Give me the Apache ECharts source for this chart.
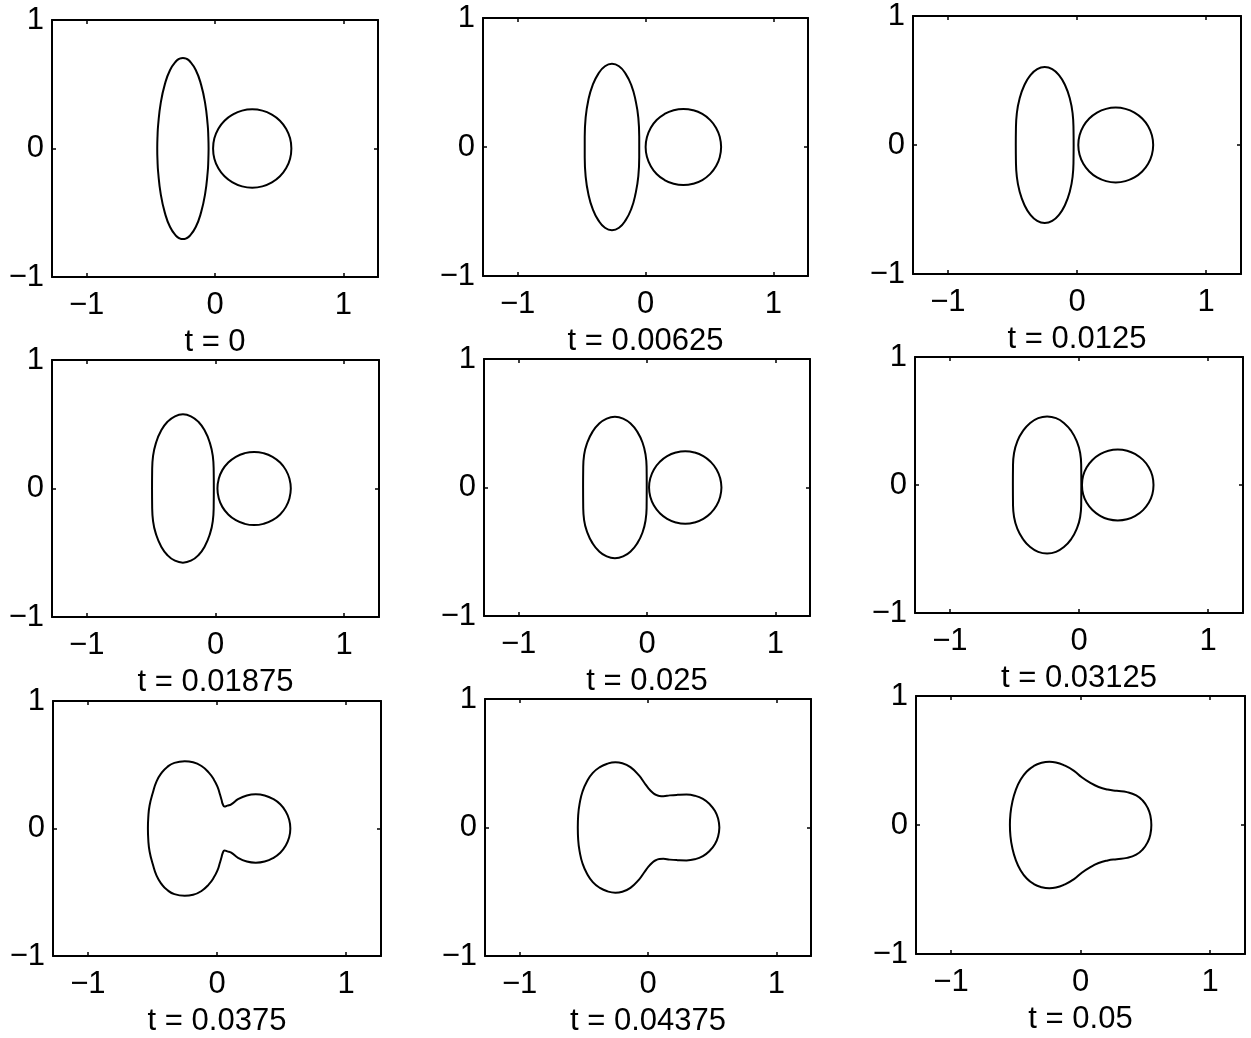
<!DOCTYPE html>
<html>
<head>
<meta charset="utf-8">
<title>Merging of two drops</title>
<script src="https://cdn.jsdelivr.net/npm/echarts@6/dist/echarts.min.js"></script>
<style>
  html, body { margin: 0; padding: 0; background: #fff; }
  #chart { width: 1251px; height: 1038px; }
</style>
</head>
<body>
<div id="chart"></div>
<script>
// Snapshot times, one per panel
const timeLabels = ['t = 0', 't = 0.00625', 't = 0.0125', 't = 0.01875', 't = 0.025',
                    't = 0.03125', 't = 0.0375', 't = 0.04375', 't = 0.05'];
const xTicks = [-1, 0, 1];
const yTicks = [-1, 0, 1];

// Interface contours: upper halves [x, y], from the right end (y = 0) over the top to the left end.
// The shapes are symmetric about y = 0; the lower half is the mirror image.
const dropA_t0 = [[-0.05,0],[-0.052,0.092],[-0.057,0.183],[-0.077,0.353],[-0.109,0.499],[-0.15,0.611],[-0.198,0.681],[-0.224,0.699],[-0.25,0.705],[-0.276,0.699],[-0.302,0.681],[-0.35,0.611],[-0.391,0.499],[-0.423,0.353],[-0.443,0.183],[-0.448,0.092],[-0.45,0]];
const dropB_t0 = [[0.595,0],[0.585,0.079],[0.554,0.153],[0.506,0.216],[0.443,0.264],[0.369,0.295],[0.29,0.305],[0.211,0.295],[0.138,0.264],[0.074,0.216],[0.026,0.153],[-0.005,0.079],[-0.015,0]];

const dropA_t1 = [[-0.049,0],[-0.049,0.08],[-0.056,0.226],[-0.078,0.363],[-0.111,0.48],[-0.156,0.569],[-0.207,0.626],[-0.262,0.645],[-0.317,0.626],[-0.368,0.569],[-0.413,0.48],[-0.447,0.363],[-0.468,0.226],[-0.475,0.08],[-0.475,0]];
const dropB_t1 = [[0.591,0],[0.581,0.076],[0.552,0.148],[0.505,0.209],[0.444,0.256],[0.372,0.285],[0.296,0.295],[0.22,0.285],[0.149,0.256],[0.087,0.209],[0.041,0.148],[0.011,0.076],[0.001,0]];

const dropA_t2 = [[-0.026,0],[-0.027,0.12],[-0.034,0.246],[-0.056,0.363],[-0.092,0.463],[-0.138,0.54],[-0.192,0.589],[-0.25,0.605],[-0.308,0.589],[-0.362,0.54],[-0.408,0.463],[-0.444,0.363],[-0.466,0.246],[-0.473,0.12],[-0.474,0]];
const dropB_t2 = [[0.59,0],[0.58,0.075],[0.551,0.145],[0.505,0.205],[0.445,0.251],[0.375,0.28],[0.3,0.29],[0.225,0.28],[0.155,0.251],[0.095,0.205],[0.049,0.145],[0.02,0.075],[0.01,0]];

const dropA_t3 = [[-0.013,0],[-0.014,0.14],[-0.021,0.253],[-0.045,0.359],[-0.083,0.449],[-0.133,0.519],[-0.191,0.562],[-0.253,0.577],[-0.315,0.562],[-0.373,0.519],[-0.423,0.449],[-0.461,0.359],[-0.485,0.253],[-0.492,0.14],[-0.493,0]];
const dropB_t3 = [[0.585,0],[0.575,0.074],[0.547,0.143],[0.502,0.202],[0.443,0.247],[0.374,0.275],[0.3,0.285],[0.226,0.275],[0.158,0.247],[0.099,0.202],[0.053,0.143],[0.025,0.074],[0.015,0]];

const dropA_t4 = [[-0.002,0],[-0.003,0.15],[-0.011,0.254],[-0.035,0.35],[-0.075,0.433],[-0.126,0.496],[-0.186,0.536],[-0.25,0.55],[-0.314,0.536],[-0.374,0.496],[-0.425,0.433],[-0.465,0.35],[-0.49,0.254],[-0.497,0.15],[-0.498,0]];
const dropB_t4 = [[0.58,0],[0.57,0.073],[0.542,0.141],[0.497,0.199],[0.439,0.244],[0.371,0.272],[0.298,0.282],[0.225,0.272],[0.157,0.244],[0.099,0.199],[0.054,0.141],[0.026,0.073],[0.016,0]];

const dropA_t5 = [[0.018,0],[0.017,0.15],[0.009,0.25],[-0.018,0.343],[-0.06,0.422],[-0.115,0.483],[-0.178,0.522],[-0.247,0.535],[-0.316,0.522],[-0.38,0.483],[-0.434,0.422],[-0.477,0.343],[-0.503,0.25],[-0.511,0.15],[-0.512,0]];
const dropB_t5 = [[0.577,0],[0.568,0.072],[0.54,0.139],[0.496,0.196],[0.439,0.24],[0.372,0.268],[0.3,0.277],[0.228,0.268],[0.162,0.24],[0.104,0.196],[0.06,0.139],[0.032,0.072],[0.023,0]];

const merged_t6 = [[0.568,0],[0.559,0.069],[0.532,0.134],[0.49,0.19],[0.434,0.232],[0.369,0.259],[0.3,0.268],[0.231,0.259],[0.166,0.232],[0.11,0.19],[0.08,0.179],[0.058,0.172],[0.045,0.19],[0.035,0.225],[0.022,0.27],[0.005,0.325],[-0.025,0.385],[-0.065,0.44],[-0.12,0.49],[-0.185,0.52],[-0.25,0.528],[-0.33,0.515],[-0.385,0.483],[-0.43,0.435],[-0.468,0.37],[-0.497,0.28],[-0.522,0.18],[-0.532,0.09],[-0.535,0]];
const merged_t7 = [[0.556,0],[0.547,0.066],[0.522,0.128],[0.481,0.181],[0.428,0.222],[0.366,0.247],[0.3,0.256],[0.23,0.254],[0.17,0.25],[0.12,0.244],[0.088,0.246],[0.06,0.255],[0.035,0.272],[0.005,0.303],[-0.03,0.35],[-0.07,0.405],[-0.137,0.47],[-0.2,0.5],[-0.254,0.507],[-0.315,0.497],[-0.375,0.47],[-0.43,0.425],[-0.475,0.36],[-0.51,0.28],[-0.532,0.19],[-0.544,0.095],[-0.547,0]];
const merged_t8 = [[0.547,0],[0.54,0.07],[0.52,0.13],[0.48,0.19],[0.43,0.23],[0.36,0.255],[0.28,0.265],[0.21,0.275],[0.14,0.295],[0.07,0.33],[0.01,0.37],[-0.05,0.42],[-0.12,0.46],[-0.19,0.485],[-0.24,0.49],[-0.3,0.482],[-0.36,0.458],[-0.415,0.415],[-0.463,0.35],[-0.5,0.27],[-0.527,0.175],[-0.541,0.085],[-0.545,0]];

const panelCurves = [
  [dropA_t0, dropB_t0], [dropA_t1, dropB_t1], [dropA_t2, dropB_t2],
  [dropA_t3, dropB_t3], [dropA_t4, dropB_t4], [dropA_t5, dropB_t5],
  [merged_t6], [merged_t7], [merged_t8]
];

// Plot boxes in pixels: [left, top, width, height]
const boxes = [
  [52, 20, 326, 257], [483, 18, 325, 258], [913, 16, 328, 258],
  [52, 360, 327, 257], [484, 359, 326, 257], [915, 357, 328, 256],
  [53, 701, 328, 256], [485, 699, 326, 257], [916, 696, 329, 258]
];

const FONT = 'Liberation Sans, Arial, Helvetica, sans-serif';
const fmt = v => String(v).replace('-', '\u2212');

// Close a contour by appending the mirrored lower half
function closeContour(upper) {
  const lower = upper.slice(0, -1).reverse().map(p => [p[0], -p[1]]);
  return upper.concat(lower);
}

const grid = [], xAxis = [], yAxis = [], series = [];
const lineBox = { color: '#000', width: 2 };
const tickStyle = { color: '#000', width: 1.5 };
const textStyle = { color: '#000', fontSize: 31, fontFamily: FONT };

boxes.forEach((b, i) => {
  grid.push({ left: b[0], top: b[1], width: b[2], height: b[3] });
  xAxis.push({
    gridIndex: i, type: 'value', position: 'bottom', min: -1.27, max: 1.27,
    axisLine: { onZero: false, lineStyle: lineBox },
    axisTick: { inside: true, length: 4, customValues: xTicks, lineStyle: tickStyle },
    axisLabel: Object.assign({ customValues: xTicks, formatter: fmt, margin: 13 }, textStyle),
    splitLine: { show: false },
    name: timeLabels[i], nameLocation: 'middle', nameGap: 50,
    nameTextStyle: textStyle
  });
  xAxis.push({
    gridIndex: i, type: 'value', position: 'top', min: -1.27, max: 1.27,
    axisLine: { onZero: false, lineStyle: lineBox },
    axisTick: { inside: true, length: 4, customValues: xTicks, lineStyle: tickStyle },
    axisLabel: { show: false }, splitLine: { show: false }
  });
  yAxis.push({
    gridIndex: i, type: 'value', position: 'left', min: -1, max: 1,
    axisLine: { onZero: false, lineStyle: lineBox },
    axisTick: { inside: true, length: 4, customValues: yTicks, lineStyle: tickStyle },
    axisLabel: Object.assign({ customValues: yTicks, formatter: fmt, margin: 8 }, textStyle),
    splitLine: { show: false }
  });
  yAxis.push({
    gridIndex: i, type: 'value', position: 'right', min: -1, max: 1,
    axisLine: { onZero: false, lineStyle: lineBox },
    axisTick: { inside: true, length: 4, customValues: yTicks, lineStyle: tickStyle },
    axisLabel: { show: false }, splitLine: { show: false }
  });
  panelCurves[i].forEach(c => {
    series.push({
      type: 'line', xAxisIndex: 2 * i, yAxisIndex: 2 * i,
      data: closeContour(c), smooth: 0.5, showSymbol: false, symbol: 'none',
      lineStyle: { color: '#000', width: 2 }, silent: true
    });
  });
});

const chart = echarts.init(document.getElementById('chart'), null, { renderer: 'canvas' });
chart.setOption({ animation: false, backgroundColor: '#fff', grid, xAxis, yAxis, series });
</script>
</body>
</html>
